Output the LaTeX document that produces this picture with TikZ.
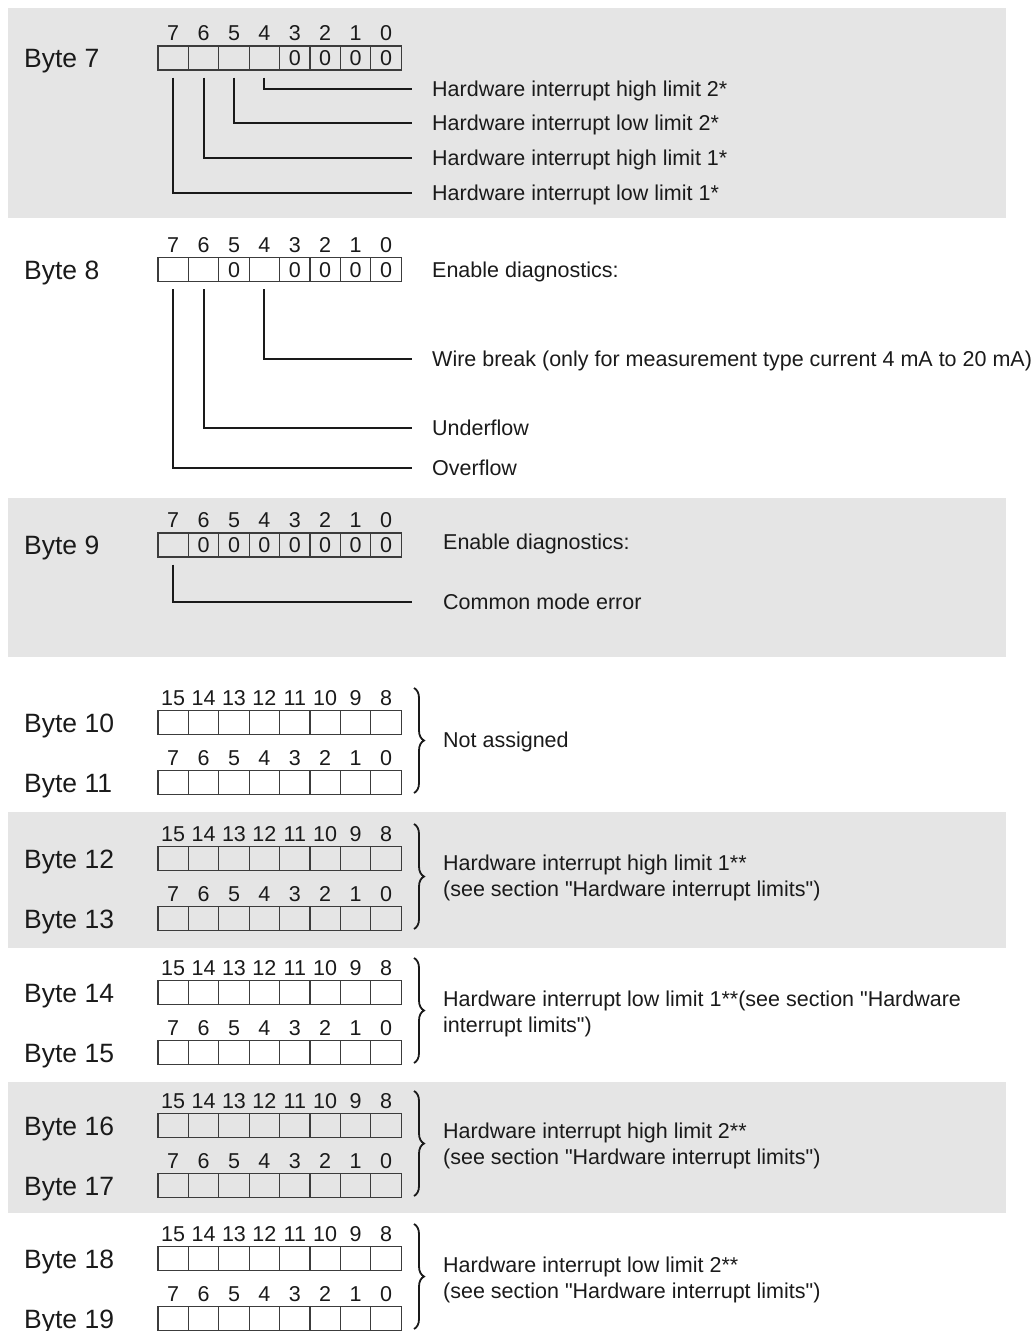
\documentclass[tikz,border=0pt]{standalone}
\usepackage{fontspec}
\usetikzlibrary{decorations.pathreplacing}
\newfontfamily\arialfont{Liberation Sans}
\definecolor{Band}{HTML}{E5E5E5}
\definecolor{Ink}{HTML}{1A1A1A}
\definecolor{CellLine}{HTML}{3C3C3C}

% one row of eight bit cells with their numbers above
\newcommand{\bytecells}[4]{%
  \foreach \val [count=\k from 0] in {#4} {
    \pgfmathtruncatemacro{\bit}{#3-\k}
    \node[cell] (#1-\bit) at ({173.2+30.4*\k},#2) {\val};
    \node[bitno] (#1-n\bit) at ({173.2+30.4*\k},#2-25) {\bit};
  }}

\begin{document}
\begin{tikzpicture}[x=1pt,y=-1pt,
    cell/.style={draw=CellLine,line width=1.1pt,minimum width=30.4pt,minimum height=24pt,inner sep=0pt,
      text height=15.4pt,text depth=0pt,text=Ink,font=\arialfont\fontsize{21.5}{24}\selectfont},
    bitno/.style={inner sep=0pt,text height=15.4pt,text depth=0pt,text=Ink,
      font=\arialfont\fontsize{21.5}{24}\selectfont},
    bytelabel/.style={anchor=west,inner sep=0pt,text height=19pt,text depth=0pt,text=Ink,
      font=\arialfont\fontsize{26.5}{30}\selectfont},
    desc/.style={anchor=west,inner sep=0pt,text height=15.4pt,text depth=0pt,text=Ink,
      font=\arialfont\fontsize{21.5}{26}\selectfont},
    grouptext/.style={anchor=base west,inner sep=0pt,align=left,text=Ink,
      font=\arialfont\fontsize{21.5}{26}\selectfont},
    leader/.style={draw=Ink,line width=2pt,shorten <=7pt,shorten >=20pt},
    brace/.style={draw=Ink,line width=1.8pt,decorate,decoration={brace,amplitude=10pt}}]
  \useasboundingbox (0,0) rectangle (1035,1331);

  % grey bands
  \fill[Band] (8,8) rectangle (1006,218);
  \fill[Band] (8,498) rectangle (1006,657);
  \fill[Band] (8,812) rectangle (1006,948);
  \fill[Band] (8,1082) rectangle (1006,1213);

  % Byte 7
  \node[bytelabel] (b7) at (24,58) {Byte 7};
  \bytecells{r7}{58}{7}{{},{},{},{},0,0,0,0}
  \node[desc] (t7a) at (432,89) {Hardware interrupt high limit 2*};
  \node[desc] (t7b) at (432,123) {Hardware interrupt low limit 2*};
  \node[desc] (t7c) at (432,158) {Hardware interrupt high limit 1*};
  \node[desc] (t7d) at (432,193) {Hardware interrupt low limit 1*};
  \draw[leader] (r7-4.south) |- (t7a.west);
  \draw[leader] (r7-5.south) |- (t7b.west);
  \draw[leader] (r7-6.south) |- (t7c.west);
  \draw[leader] (r7-7.south) |- (t7d.west);

  % Byte 8
  \node[bytelabel] (b8) at (24,269.5) {Byte 8};
  \bytecells{r8}{269.5}{7}{{},{},0,{},0,0,0,0}
  \node[desc] (t8) at (432,269.5) {Enable diagnostics:};
  \node[desc] (t8a) at (432,359) {Wire break (only for measurement type current 4 mA to 20 mA)};
  \node[desc] (t8b) at (432,427.5) {Underflow};
  \node[desc] (t8c) at (432,468) {Overflow};
  \draw[leader] (r8-4.south) |- (t8a.west);
  \draw[leader] (r8-6.south) |- (t8b.west);
  \draw[leader] (r8-7.south) |- (t8c.west);

  % Byte 9
  \node[bytelabel] (b9) at (24,545) {Byte 9};
  \bytecells{r9}{545}{7}{{},0,0,0,0,0,0,0}
  \node[desc] (t9) at (443,542) {Enable diagnostics:};
  \node[desc] (t9a) at (443,602) {Common mode error};
  \draw[leader,shorten >=31pt] (r9-7.south) |- (t9a.west);

  % Byte 10/11
  \node[bytelabel] (b10) at (24,722.5) {Byte 10};
  \node[bytelabel] (b11) at (24,782.5) {Byte 11};
  \bytecells{r10}{722.5}{15}{{},{},{},{},{},{},{},{}}
  \bytecells{r11}{782.5}{7}{{},{},{},{},{},{},{},{}}
  \draw[brace] (414,688) -- (414,793);
  \node[grouptext] (t10) at (443,747) {Not assigned};

  % Byte 12/13
  \node[bytelabel] (b12) at (24,858.5) {Byte 12};
  \node[bytelabel] (b13) at (24,918.5) {Byte 13};
  \bytecells{r12}{858.5}{15}{{},{},{},{},{},{},{},{}}
  \bytecells{r13}{918.5}{7}{{},{},{},{},{},{},{},{}}
  \draw[brace] (414,824) -- (414,929);
  \node[grouptext] (t12) at (443,896.7) {Hardware interrupt high limit 1**\\(see section "Hardware interrupt limits")};

  % Byte 14/15
  \node[bytelabel] (b14) at (24,992.5) {Byte 14};
  \node[bytelabel] (b15) at (24,1052.5) {Byte 15};
  \bytecells{r14}{992.5}{15}{{},{},{},{},{},{},{},{}}
  \bytecells{r15}{1052.5}{7}{{},{},{},{},{},{},{},{}}
  \draw[brace] (414,958) -- (414,1063);
  \node[grouptext] (t14) at (443,1032.7) {Hardware interrupt low limit 1**(see section "Hardware\\interrupt limits")};

  % Byte 16/17
  \node[bytelabel] (b16) at (24,1125.5) {Byte 16};
  \node[bytelabel] (b17) at (24,1185.5) {Byte 17};
  \bytecells{r16}{1125.5}{15}{{},{},{},{},{},{},{},{}}
  \bytecells{r17}{1185.5}{7}{{},{},{},{},{},{},{},{}}
  \draw[brace] (414,1091) -- (414,1196);
  \node[grouptext] (t16) at (443,1164.7) {Hardware interrupt high limit 2**\\(see section "Hardware interrupt limits")};

  % Byte 18/19
  \node[bytelabel] (b18) at (24,1258.5) {Byte 18};
  \node[bytelabel] (b19) at (24,1318.5) {Byte 19};
  \bytecells{r18}{1258.5}{15}{{},{},{},{},{},{},{},{}}
  \bytecells{r19}{1318.5}{7}{{},{},{},{},{},{},{},{}}
  \draw[brace] (414,1224) -- (414,1329);
  \node[grouptext] (t18) at (443,1298.7) {Hardware interrupt low limit 2**\\(see section "Hardware interrupt limits")};
\end{tikzpicture}
\end{document}
